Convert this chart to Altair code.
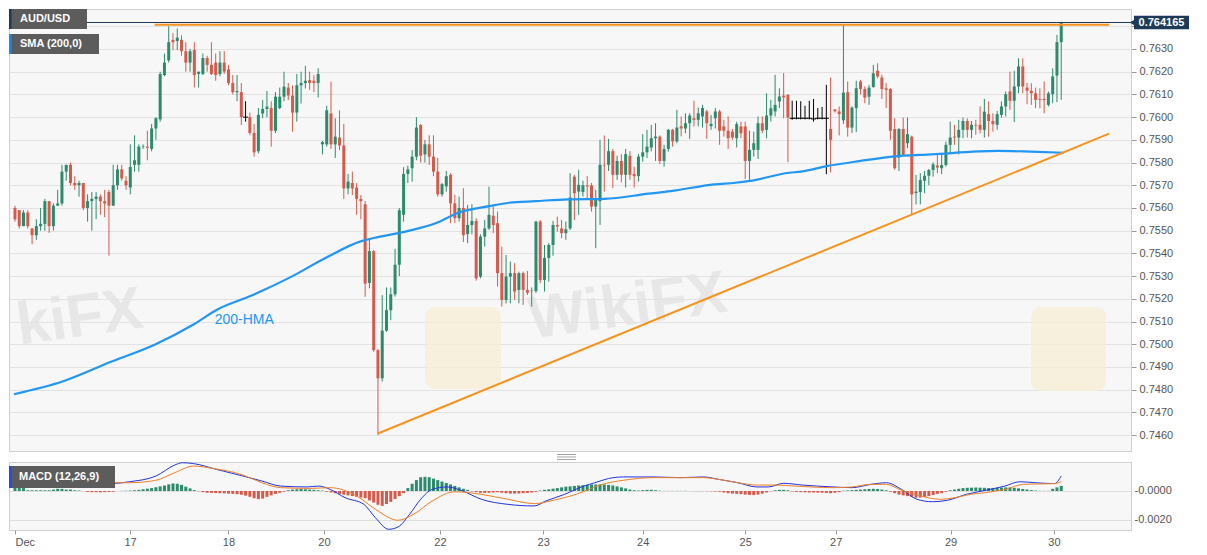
import altair as alt
import pandas as pd

# ---------------- candle data (price x 10000), hourly AUD/USD ----------------
OPEN = [7560, 7559, 7552, 7558, 7551, 7548, 7552, 7553, 7563, 7552,
        7561, 7562, 7576, 7579, 7571, 7570, 7571, 7560, 7563, 7564,
        7565, 7563, 7567, 7561, 7570, 7577, 7572, 7569, 7579, 7579,
        7587, 7587, 7586, 7595, 7599, 7618.5, 7625, 7634, 7633.5, 7634,
        7629, 7624, 7629.5, 7619, 7619, 7626, 7623, 7624, 7619, 7624,
        7621, 7615, 7611, 7611, 7600, 7600, 7593, 7585, 7601.6, 7603.6,
        7604, 7594, 7604, 7609, 7613, 7609.5, 7602, 7614, 7615, 7616.3,
        7616, 7615, 7588, 7588, 7601.6, 7588, 7591, 7587.5, 7568.6, 7571,
        7569, 7564, 7561.6, 7527, 7541, 7497.4, 7485, 7506, 7515, 7522,
        7535, 7557, 7575, 7577.5, 7582.6, 7596.5, 7583.6, 7588, 7582.6, 7576,
        7566, 7569.5, 7574.6, 7562, 7555.5, 7560, 7548.5, 7552.5, 7554.3, 7529.8,
        7547.4, 7551, 7556.6, 7553.3, 7531.3, 7519.5, 7529.8, 7531.3, 7523.9, 7531.3,
        7523.9, 7523.4, 7523.4, 7554, 7528.3, 7538, 7543.7, 7552.5, 7551, 7548.9,
        7551, 7573.8, 7567.2, 7567, 7570, 7570, 7560.6, 7563, 7579, 7579,
        7585, 7574.6, 7580.7, 7574.6, 7583, 7575, 7574, 7582.6, 7584.5, 7586.6,
        7590.7, 7591.4, 7580.7, 7586, 7594.4, 7589.3, 7596, 7595, 7597.3, 7599.5,
        7598.8, 7600.3, 7602.5, 7596, 7599.5, 7602.5, 7595.9, 7594, 7593.6, 7590.7,
        7595.9, 7595.9, 7580.7, 7585.6, 7585.6, 7597.3, 7594.4, 7600.7, 7602.5, 7606.9,
        7609.5, 7609.8, 7599.5, 7599.5, 7599.5, 7599.5, 7599.5, 7599.2, 7599.5, 7599.5,
        7599.5, 7594.8, 7603.4, 7602.5, 7598.6, 7611, 7595.4, 7604, 7615.7, 7612.4,
        7609, 7613.2, 7620.4, 7617.4, 7612.7, 7612.4, 7594.8, 7582.2, 7594.8, 7588.5,
        7591.4, 7566.6, 7567, 7572, 7574.2, 7576.7, 7578.7, 7577.5, 7578.9, 7587.8,
        7591.4, 7591, 7594.4, 7598.3, 7594.4, 7596.6, 7596.6, 7594.4, 7601.3, 7598.3,
        7596.6, 7601, 7604.7, 7611.3, 7607.2, 7613.5, 7622.3, 7613, 7611.6, 7610.5,
        7608, 7608, 7605.4, 7610.1, 7618.3, 7633]

HIGH = [7561, 7559, 7559, 7559, 7551, 7555, 7560, 7564, 7563, 7562,
        7568, 7579, 7579, 7580, 7574, 7572, 7571, 7566, 7567, 7567,
        7566, 7568, 7568, 7579, 7579, 7579, 7574, 7588, 7592, 7588,
        7588, 7594, 7597, 7600, 7620, 7628, 7640, 7637, 7639, 7636,
        7633, 7630, 7633, 7620, 7628, 7627, 7633, 7628, 7629, 7629,
        7623, 7618.5, 7618.5, 7615, 7607, 7602, 7597, 7604, 7607.5, 7611.5,
        7607, 7611, 7613, 7620, 7615, 7614, 7619, 7620, 7622.6, 7620,
        7618.5, 7621.5, 7589.5, 7605, 7615.6, 7599.5, 7603, 7597, 7575, 7576,
        7571, 7565.7, 7563, 7546, 7541.5, 7498, 7521.6, 7525, 7525, 7542,
        7560, 7578, 7578.6, 7585.5, 7600, 7597, 7590, 7592, 7592, 7582,
        7571, 7576.3, 7575.3, 7565.8, 7565, 7568.7, 7561.4, 7561.7, 7555.5, 7548.4,
        7554.7, 7569.4, 7560.6, 7558.4, 7543, 7539.3, 7536.4, 7535.7, 7532, 7532,
        7532.3, 7525, 7554.3, 7554.7, 7543.7, 7544.5, 7554.3, 7556.2, 7554.7, 7554,
        7575.3, 7574.6, 7576.8, 7572, 7574, 7571, 7568, 7590, 7591.9, 7590.4,
        7586, 7583, 7583.7, 7586, 7585, 7578.2, 7583.7, 7592.5, 7594.4, 7596.6,
        7597.3, 7591.9, 7587.8, 7594.8, 7594.8, 7603.2, 7600.3, 7601.7, 7601.7, 7607.2,
        7604.2, 7605.4, 7603.2, 7601, 7604, 7603.2, 7598.8, 7600.3, 7594.8, 7598,
        7598, 7598, 7594, 7593.6, 7600.3, 7600.3, 7610.5, 7607.6, 7618.6, 7612.7,
        7619.4, 7610.1, 7607.2, 7607.2, 7607, 7605, 7607.2, 7608, 7604, 7604.5,
        7614.2, 7617.4, 7603.4, 7604.7, 7641, 7615.7, 7604.7, 7616, 7616.4, 7613.5,
        7614.2, 7623, 7623.7, 7618.6, 7615, 7612.7, 7599.5, 7595.1, 7599.8, 7599.8,
        7591.9, 7574.5, 7575.3, 7576.3, 7577.2, 7580.1, 7583.4, 7583.4, 7589.2, 7598,
        7596.6, 7598.8, 7599.8, 7599.5, 7598.3, 7598.8, 7604.7, 7608, 7606.9, 7601.7,
        7602.7, 7606.9, 7611.3, 7620, 7620.4, 7625.9, 7625.9, 7615, 7614.9, 7613,
        7612.7, 7615.7, 7611.3, 7621.5, 7636.2, 7642]

LOW = [7554, 7551, 7552, 7551, 7544, 7546, 7550, 7550, 7549, 7550,
       7561, 7561, 7572, 7570, 7568, 7565, 7559, 7554, 7550, 7555,
       7557, 7556, 7539, 7561, 7568, 7572, 7568, 7566, 7576, 7576,
       7586, 7581, 7585, 7590, 7598, 7618, 7624, 7629.5, 7629.5, 7627,
       7620, 7620, 7613, 7613, 7618.5, 7620, 7618.5, 7616, 7618, 7619,
       7614, 7610, 7607, 7596.5, 7598, 7592, 7582.6, 7584, 7599.5, 7600,
       7587, 7593, 7603.5, 7607, 7607.5, 7593.6, 7598, 7606, 7612.6, 7612,
       7611, 7608.6, 7583.6, 7587, 7586, 7582, 7585.5, 7564, 7566, 7565.7,
       7557, 7555, 7520.9, 7524.6, 7496.7, 7460, 7483.6, 7505.5, 7510.6, 7521,
       7530, 7554, 7571, 7571.6, 7581, 7580, 7580, 7579, 7574, 7565,
       7565, 7567.2, 7553.3, 7553.3, 7554, 7545, 7544.5, 7548.4, 7528, 7529,
       7543, 7550.3, 7548.9, 7525.4, 7516.6, 7518, 7518, 7519.5, 7518, 7517.3,
       7521.7, 7516.6, 7522.5, 7526.9, 7523.2, 7527.6, 7539, 7549.6, 7546.7, 7546,
       7550.3, 7554.7, 7557, 7565, 7564, 7558.4, 7542.3, 7552.5, 7567.2, 7576.3,
       7568.7, 7572.4, 7571.3, 7569, 7572.4, 7569, 7571.6, 7580.4, 7582, 7584.9,
       7580.7, 7579.3, 7578.2, 7584.8, 7587, 7588.5, 7591.5, 7592.9, 7590.4, 7595.9,
       7595.9, 7595.4, 7590.4, 7594.4, 7595, 7587.8, 7591.4, 7586, 7590, 7586.6,
       7590.7, 7572.8, 7572.4, 7582.6, 7581.6, 7592.9, 7590.7, 7598, 7600.3, 7604,
       7599.5, 7580.2, 7598.8, 7599, 7599, 7599, 7599, 7598, 7599, 7599,
       7574.9, 7575.7, 7602, 7591.9, 7597, 7591.4, 7593, 7593.4, 7610, 7606.1,
       7605.4, 7613, 7617, 7608, 7604, 7590, 7576.8, 7576.3, 7583.1, 7586.3,
       7557.2, 7561.6, 7561.6, 7566.5, 7570, 7573.8, 7575.3, 7574.9, 7578.2, 7584.1,
       7587.8, 7583.6, 7590.7, 7591, 7590.7, 7592.2, 7592.9, 7591, 7591.4, 7593.6,
       7594.4, 7599.8, 7600.3, 7603.2, 7597.8, 7610.5, 7610.5, 7605.7, 7605.4, 7603.9,
       7603.9, 7601.7, 7604.7, 7606.1, 7606.6, 7607.6]

CLOSE = [7555, 7552, 7558, 7552, 7548, 7552, 7553, 7563, 7552, 7561,
         7562, 7576, 7579, 7571, 7570, 7571, 7560, 7563, 7564, 7565,
         7563, 7562, 7561, 7570, 7577, 7573, 7570, 7578, 7581, 7587,
         7587.2, 7586.5, 7595, 7599.5, 7619, 7624, 7633, 7633, 7635, 7629,
         7624, 7629, 7618.5, 7620, 7626, 7623, 7619, 7618.5, 7624, 7620,
         7615, 7611, 7611.5, 7600, 7600, 7593, 7584.5, 7601, 7603.6, 7604.6,
         7594, 7609, 7609, 7613.4, 7609.5, 7602, 7614, 7615, 7616, 7615,
         7615, 7619, 7589, 7603, 7588, 7591.4, 7587.5, 7568.6, 7571.6, 7568.6,
         7564, 7563, 7526.7, 7541, 7497.4, 7485, 7506, 7515, 7522, 7535,
         7559, 7575, 7577, 7582.6, 7595.4, 7583, 7588, 7582.6, 7576, 7566,
         7570.5, 7574, 7562, 7555.5, 7560, 7548, 7552.5, 7554.3, 7529, 7547.4,
         7551, 7557, 7552.5, 7531.3, 7519.5, 7529.8, 7531.3, 7523.2, 7531.3, 7523.9,
         7522.7, 7523.6, 7554, 7528.3, 7538, 7543.7, 7552.5, 7551.8, 7548.9, 7550.6,
         7564.6, 7566.5, 7570.2, 7570, 7569.5, 7560.6, 7563.5, 7579, 7578.7, 7585,
         7574.6, 7580.7, 7574.6, 7583.7, 7574.6, 7574, 7582.6, 7584.5, 7587, 7590.7,
         7591.4, 7580.7, 7586, 7594.4, 7589.3, 7595.4, 7595, 7597.3, 7600.7, 7598.8,
         7601.7, 7604, 7597.3, 7597, 7602.5, 7594, 7594, 7590.7, 7591, 7596.9,
         7592.9, 7580.7, 7585.6, 7588.5, 7597.3, 7594, 7600.7, 7603.9, 7605.4, 7609.1,
         7608.7, 7599.8, 7599.5, 7599.5, 7599.5, 7599.5, 7599.5, 7599.2, 7599.5, 7599.5,
         7599.5, 7590, 7602.6, 7601.3, 7610.8, 7595.4, 7604.2, 7612.7, 7612.4, 7608.6,
         7613, 7619.3, 7617.9, 7612.4, 7612, 7594, 7577.5, 7594.8, 7583.4, 7592.5,
         7566, 7567.2, 7572.3, 7574.2, 7576.7, 7579.2, 7577.8, 7578.9, 7587.8, 7591,
         7591, 7594.4, 7598.3, 7594.4, 7596.6, 7596.3, 7594.4, 7602.4, 7598.3, 7596.9,
         7601.3, 7604.7, 7610.1, 7607.2, 7613.5, 7622.3, 7613.5, 7611.6, 7610.5, 7607.6,
         7607.6, 7607.5, 7610.5, 7617.9, 7633, 7641.65]

# ---------------- MACD (12,26,9) histogram per candle (x 0.0001) ----------------
HIST = ([3, 2.5, 2] + [0.5] * 6 + [1, 1.5, 1.5, 1, 1, 0.5, 0.3] + [0]
        + [-0.6, -0.8, -0.8, -0.9, -0.8, -0.7, -0.5] + [0, 0.1, 0.2]
        + [0.3, 0.5, 0.8, 1.2, 1.6, 2.0, 2.6, 3.2, 3.8, 4.6, 5.2, 5.0, 4.2, 3.0, 1.8, 0.6]
        + [-0.2]
        + [-0.8, -1.2, -1.3, -1.4, -1.5, -1.6, -1.8, -2.0, -2.2, -2.6, -3.2, -4.0, -5.0, -5.6,
           -5.2, -4.0, -3.0, -2.0, -1.2, -0.5]
        + [0.5, 1, 1.2, 1.4, 1.2, 1.0, 0.8, 0.5, 0.3]
        + [-0.5, -1.0, -1.5, -2.0, -2.5, -3.0, -3.5, -4.0, -4.5, -5.0, -6.5, -8.0, -9.5, -10.3,
           -9.0, -7.5, -5.5, -3.5, -1.5]
        + [2.0, 5.0, 7.5, 9.5, 9.8, 9.5, 8.5, 7.5, 6.5, 5.5, 4.5, 3.5, 2.5, 1.5, 0.8]
        + [-0.3, -0.8, -1.2, -1.3, -1.2, -1.0, -0.8, -1.2, -1.5, -1.8, -1.8, -1.7, -1.5, -1.3,
           -1.0, -0.5]
        + [0.3, 0.8, 1.2, 1.6, 2.0, 2.5, 3.0, 3.2, 3.5, 3.8, 4.0, 4.2, 4.5, 4.5, 4.6, 4.5]
        + [4.2, 3.8, 3.2, 2.5, 1.8, 1.0, 0.5]
        + [0.3, 0.6, 0.8, 0.8, 0.5]
        + [0.2, 0.1, 0.1, 0.1, 0.1, 0.1, 0.1, 0.0, -0.1, -0.1, -0.1, -0.1, -0.2, -0.3]
        + [-0.5, -1.0, -1.5, -1.8, -2.0, -2.2, -2.5, -2.7, -2.8, -2.5, -1.8, -1.0]
        + [-0.2]
        + [0.5, 0.8, 0.8, 0.5]
        + [-0.3, -0.6, -0.8, -0.9, -1.0, -1.0, -1.1, -1.2, -1.3, -1.5, -1.2, -0.8]
        + [0.2, 0.4, 0.6, 0.8, 1.0, 1.2, 1.4, 1.5, 1.4, 1.0, 0.5]
        + [-0.5, -1.5, -2.5, -3.0, -3.5, -4.0, -4.6, -4.5, -4.2, -3.5, -2.8, -2.0, -1.5, -0.5]
        + [0.5, 1.0, 1.5, 2.0, 2.2, 2.3, 2.4, 2.3, 2.2, 2.0, 2.0, 2.2, 2.4, 2.5, 2.4, 2.2, 1.8,
           1.4, 1.0, 0.6, 0.3]
        + [0.1, 0.1, 0.1]
        + [1.5, 2.5, 3.5])

MACD_X = [0.2, 9.0, 17.9, 23.2, 26.8, 33, 37.4, 39.2, 41.8, 47.2, 53.4, 57.8, 62.2, 68.4, 71.1,
          73.8, 77.3, 81.7, 84.4, 87.5, 89.7, 92.4, 95, 97.7, 101.2, 104.8, 109.2, 115.4, 121.6,
          124.3, 128.7, 133.2, 135.8, 139, 142.5, 149.6, 155.9, 161.2, 164.8, 169.3, 173.7, 176.4,
          180, 184.4, 191.6, 196, 200.5, 204.1, 207.6, 211.2, 214.8, 218.4, 222.8, 227.3, 231.8,
          235.3, 238.9, 243.4, 245]
MACD_V = [6.9, 5.7, 5.3, 5.3, 6.4, 10.3, 17.9, 19.5, 18.9, 14.9, 10.3, 6.9, 3.4, 2.8, 3.4,
          1.1, -4.6, -9.2, -18.4, -26.4, -24.8, -16.1, -5.7, 1.1, 2.8, 0, -5.7, -9.2, -10.3,
          -6.9, -2.3, 3.4, 5.7, 8.6, 9.7, 9.7, 9.2, 9.7, 8.0, 5.7, 2.8, 2.8,
          5.3, 4.1, 2.8, 2.3, 4.6, 5.7, 1.1, -5.7, -7.4, -6.4, -2.3, 0.5, 3.4,
          6.4, 5.7, 5.1, 10.3]
SIGNAL_X = [0.2, 9, 17.9, 26.8, 33, 37.4, 41.8, 46.3, 53.4, 57.8, 62.2, 69.3, 73.8, 80, 84.4,
            89.7, 93.3, 97.7, 103, 109.2, 115.4, 121.6, 126.1, 131.4, 138, 142.5, 149.6, 155.9,
            161.2, 164.8, 169.3, 173.7, 178.2, 182.6, 191.6, 196, 200.5, 204.1, 207.6, 212.1,
            216.6, 220.1, 223.7, 227.3, 231.8, 236.2, 243.4, 245]
SIGNAL_V = [5.7, 5.7, 5.7, 5.7, 7.4, 12.6, 17.2, 15.6, 11.0, 5.7, 2.3, 1.8, 2.3, -3.4, -12.6,
            -20.2, -16.1, -6.9, -0.5, -2.3, -5.7, -8.7, -6.4, -2.3, 5.0, 7.4, 9.2, 9.2,
            9.2, 8.0, 5.7, 4.1, 4.1, 3.4, 2.3, 2.8, 4.6, 4.6, 0.5, -3.4,
            -5.7, -4.6, -2.3, -1.1, 1.1, 4.6, 5.1, 6.4]

# ---------------- overlays ----------------
HMA_X = [-0.23, 11.3, 22.8, 32.7, 41.9, 47.5, 55.1, 65, 72.8, 81.1, 84.3, 91.9, 98.8, 103.8,
         111.1, 115.7, 121.9, 129.5, 138, 148.4, 153.5, 163.8, 168.7, 172.1, 181.3, 184.1,
         190.3, 198, 205.5, 214.7, 230.2, 237.8, 245.6]
HMA_P = [7478.0, 7483.7, 7492.5, 7499.8, 7508.8, 7515.4, 7521.2, 7530, 7538.1, 7545.4, 7546.9,
         7549.8, 7553.5, 7557.9, 7560.8, 7562.3, 7563, 7563.8, 7564, 7566.3, 7567.4, 7570.4,
         7571.1, 7571.9, 7575.5, 7576, 7578.5, 7580.7, 7582.6, 7583.6, 7585.1, 7584.8, 7584.3]
RES_X = [32.7, 256.2]
RES_P = [7640.7, 7640.7]
TREND_X = [85, 256.2]
TREND_P = [7460.7, 7592.7]
LAST_PRICE = 0.764165
LAST_LABEL = "0.764165"
HMA_LABEL = ["200-HMA"]
HMA_LABEL_X = [53.7]
HMA_LABEL_P = [7510.6]

PRICE_TICKS = [0.7460, 0.7470, 0.7480, 0.7490, 0.7500, 0.7510, 0.7520, 0.7530, 0.7540, 0.7550,
               0.7560, 0.7570, 0.7580, 0.7590, 0.7600, 0.7610, 0.7620, 0.7630, 0.7640]
MACD_TICKS = [0.0, -0.002]
MACD_TICK_LABELS = ["-0.0000", "-0.0020"]
DAY_TICKS = [0, 26.96, 50, 72.35, 99.5, 123.7, 147, 171, 192.2, 219.1, 243.3]
DAY_LABELS = ["Dec", "17", "18", "20", "22", "23", "24", "25", "27", "29", "30"]

assert len(OPEN) == len(HIGH) == len(LOW) == len(CLOSE) == len(HIST) == 246

# ---------------- styling ----------------
FONT = "Liberation Sans"
GREEN = "#2c8a6d"
RED = "#d65a4b"
W = 1122
H_MAIN = 442
H_MACD = 68
XDOM = [-0.23, 260.17]

xs = alt.Scale(domain=XDOM, nice=False, zero=False)
ys = alt.Scale(domain=[0.74530, 0.76476], nice=False, zero=False)
ms = alt.Scale(domain=[-0.00269, 0.0020], nice=False, zero=False)

# the 0.7640 label sits under the last-price tag, as in the source chart
y_axis = alt.Axis(orient="right", values=PRICE_TICKS,
                  labelExpr="datum.value > 0.76395 ? '' : format(datum.value, '.4f')",
                  grid=True, tickSize=5, labelPadding=3, title=None, domain=True,
                  domainColor="#cfcfcf", tickColor="#9a9a9a", gridColor="#e2e2e2")

def X(f):
    return alt.X(f, type="quantitative", scale=xs, axis=None, title=None)

def Y(f):
    return alt.Y(f, type="quantitative", scale=ys, axis=y_axis, title=None)

def dirn(o, c):
    return "up" if c > o else ("down" if c < o else "flat")

cdf = pd.DataFrame({
    "i": list(range(len(CLOSE))),
    "o": [v / 1e4 for v in OPEN],
    "h": [v / 1e4 for v in HIGH],
    "l": [v / 1e4 for v in LOW],
    "c": [v / 1e4 for v in CLOSE],
    "dir": [dirn(o, c) for o, c in zip(OPEN, CLOSE)],
})
cscale = alt.Scale(domain=["up", "down", "flat"], range=[GREEN, RED, "#000000"])
ccolor = alt.Color("dir:N", scale=cscale, legend=None)

base = alt.Chart(cdf)
wicks = base.mark_rule(strokeWidth=1, clip=True).encode(x=X("i"), y=Y("l"), y2="h:Q", color=ccolor)
bodies = base.mark_bar(width=3, clip=True).encode(x=X("i"), y=Y("o"), y2="c:Q", color=ccolor)
dojis = (base.transform_filter("datum.dir == 'flat'")
         .transform_calculate(xa="datum.i - 0.6", xb="datum.i + 0.6")
         .mark_rule(strokeWidth=1, color="#000000", clip=True)
         .encode(x=X("xa"), x2="xb:Q", y=Y("o")))

hma_df = pd.DataFrame({"i": HMA_X, "p": [v / 1e4 for v in HMA_P]})
hma = alt.Chart(hma_df).mark_line(color="#2196f3", strokeWidth=2.2, interpolate="monotone",
                                  clip=True).encode(x=X("i"), y=Y("p"))

lines_df = pd.DataFrame({
    "i": RES_X + TREND_X,
    "p": [v / 1e4 for v in RES_P + TREND_P],
    "id": ["res"] * len(RES_X) + ["trend"] * len(TREND_X),
})
orange = alt.Chart(lines_df).mark_line(color="#f7931e", strokeWidth=2).encode(
    x=X("i"), y=Y("p"), detail="id:N")

price_df = pd.DataFrame({"p": [LAST_PRICE], "pt": [LAST_PRICE + 0.0003], "pb": [LAST_PRICE - 0.0003],
                         "t": [LAST_LABEL]})
price_line = alt.Chart(price_df).mark_rule(color="#1d3a57", strokeWidth=1).encode(y=Y("p"))
price_box = alt.Chart(price_df).mark_rect(color="#1d3a57").encode(
    x=alt.value(W + 3), x2=alt.value(W + 58), y=Y("pt"), y2="pb:Q")
price_arrow = alt.Chart(price_df).mark_point(shape="triangle-left", filled=True, size=30,
                                             color="#1d3a57", opacity=1).encode(
    x=alt.value(W + 1), y=Y("p"))
price_text = alt.Chart(price_df).mark_text(color="white", fontSize=11, fontWeight="bold",
                                           font=FONT, align="center", baseline="middle").encode(
    x=alt.value(W + 30.5), y=Y("p"), text="t:N")

lab_df = pd.DataFrame({"t": HMA_LABEL, "i": HMA_LABEL_X, "p": [v / 1e4 for v in HMA_LABEL_P]})
hma_text = alt.Chart(lab_df).mark_text(color="#2196f3", fontSize=14, font=FONT, align="center",
                                       baseline="middle").encode(x=X("i"), y=Y("p"), text="t:N")

# watermark (faint)
wm_df = pd.DataFrame({"t": ["kiFX", "WikiFX"], "x": [8, 520], "y": [318, 312]})
wm_text = alt.Chart(wm_df).mark_text(fontSize=60, fontWeight="bold", font=FONT, color="#e4e4e4",
                                     align="left", baseline="middle", angle=352, opacity=0.8,
                                     clip=True).encode(
    x=alt.X("x:Q", scale=None), y=alt.Y("y:Q", scale=None), text="t:N")
logo_df = pd.DataFrame({"x": [416, 1022], "x2": [492, 1097], "y": [298, 298], "y2": [380, 382]})
logos = alt.Chart(logo_df).mark_rect(color="#f6eed6", cornerRadius=10, opacity=0.8, clip=True).encode(
    x=alt.X("x:Q", scale=None), x2="x2:Q", y=alt.Y("y:Q", scale=None), y2="y2:Q")

# legend boxes top-left
box_df = pd.DataFrame({
    "x": [0, 0], "x2": [78, 90], "y": [0, 25], "y2": [20, 45],
    "t": ["AUD/USD", "SMA (200,0)"], "edge": ["#1d3a57", "#1e88e5"],
})
boxes = alt.Chart(box_df).mark_rect(color="#5c5c5c").encode(
    x=alt.X("x:Q", scale=None), x2="x2:Q", y=alt.Y("y:Q", scale=None), y2="y2:Q")
edges = alt.Chart(box_df).transform_calculate(xe="datum.x + 2.5").mark_rect().encode(
    x=alt.X("x:Q", scale=None), x2="xe:Q", y=alt.Y("y:Q", scale=None), y2="y2:Q",
    color=alt.Color("edge:N", scale=None))
box_text = alt.Chart(box_df).transform_calculate(xt="datum.x + 11", yt="(datum.y + datum.y2) / 2").mark_text(
    color="white", fontSize=11, fontWeight="bold", font=FONT, align="left", baseline="middle").encode(
    x=alt.X("xt:Q", scale=None), y=alt.Y("yt:Q", scale=None), text="t:N")

main = alt.layer(wm_text, logos, wicks, bodies, dojis, hma, orange, price_line, price_box, price_arrow,
                 price_text, hma_text, boxes, edges, box_text).properties(width=W, height=H_MAIN)

# ---------------- MACD panel ----------------
thr = [(DAY_TICKS[k] + DAY_TICKS[k + 1]) / 2 for k in range(len(DAY_TICKS) - 1)]
expr = "'" + DAY_LABELS[-1] + "'"
for k in range(len(thr) - 1, -1, -1):
    expr = f"datum.value < {thr[k]:.2f} ? '{DAY_LABELS[k]}' : ({expr})"

x_axis = alt.Axis(values=DAY_TICKS, labelExpr=expr, tickSize=4, labelPadding=2, domain=False,
                  grid=False, title=None, tickColor="#9a9a9a",
                  labelAlign={"condition": {"test": "datum.value < 1", "value": "left"}, "value": "center"})
m_axis = alt.Axis(orient="right", values=MACD_TICKS,
                  labelExpr=f"datum.value == 0 ? '{MACD_TICK_LABELS[0]}' : '{MACD_TICK_LABELS[1]}'",
                  tickSize=0, labelPadding=3, grid=True, gridColor="#dedede", domain=True,
                  domainColor="#cfcfcf", title=None)

def MX(f):
    return alt.X(f, type="quantitative", scale=xs, axis=x_axis, title=None)

def MY(f):
    return alt.Y(f, type="quantitative", scale=ms, axis=m_axis, title=None)

hdf = pd.DataFrame({"i": list(range(len(HIST))), "h": [v / 1e4 for v in HIST],
                    "s": ["pos" if v >= 0 else "neg" for v in HIST]})
hist = alt.Chart(hdf).mark_bar(width=3, clip=True).encode(
    x=MX("i"), y=MY("h"), y2=alt.datum(0),
    color=alt.Color("s:N", scale=alt.Scale(domain=["pos", "neg"], range=["#22ee22", "#f41414"]),
                    legend=None))
mdf = pd.DataFrame({"i": MACD_X, "v": [v / 1e4 for v in MACD_V]})
sdf = pd.DataFrame({"i": SIGNAL_X, "v": [v / 1e4 for v in SIGNAL_V]})
macd_line = alt.Chart(mdf).mark_line(color="#2233dd", strokeWidth=1, interpolate="monotone",
                                     clip=True).encode(x=MX("i"), y=MY("v"))
sig_line = alt.Chart(sdf).mark_line(color="#f08028", strokeWidth=1, interpolate="monotone",
                                    clip=True).encode(x=MX("i"), y=MY("v"))

mbox_df = pd.DataFrame({"x": [0], "x2": [106], "y": [4], "y2": [26], "t": ["MACD (12,26,9)"]})
mbox = alt.Chart(mbox_df).mark_rect(color="#5c5c5c").encode(
    x=alt.X("x:Q", scale=None), x2="x2:Q", y=alt.Y("y:Q", scale=None), y2="y2:Q")
medge = alt.Chart(mbox_df).transform_calculate(xe="datum.x + 2.5").mark_rect(color="#2748d8").encode(
    x=alt.X("x:Q", scale=None), x2="xe:Q", y=alt.Y("y:Q", scale=None), y2="y2:Q")
mtext = alt.Chart(mbox_df).transform_calculate(xt="datum.x + 10", yt="(datum.y + datum.y2) / 2").mark_text(
    color="white", fontSize=11, fontWeight="bold", font=FONT, align="left", baseline="middle").encode(
    x=alt.X("xt:Q", scale=None), y=alt.Y("yt:Q", scale=None), text="t:N")

handle_df = pd.DataFrame({"y": [-7.5, -5, -2.5]})
handle = alt.Chart(handle_df).mark_rule(color="#8a8a8a", strokeWidth=0.8).encode(
    x=alt.value(548), x2=alt.value(567), y=alt.Y("y:Q", scale=None))

macd = alt.layer(hist, macd_line, sig_line, mbox, medge, mtext, handle).properties(width=W, height=H_MACD)

chart = (alt.vconcat(main, macd, spacing=11, bounds="flush")
         .properties(padding=0, background="white")
         .configure_view(fill="#f7f7f7", stroke="#cfcfcf")
         .configure_axis(labelFont=FONT, labelFontSize=11, labelColor="#555555"))

chart.save("out.html", embed_options={"renderer": "svg", "actions": False})
